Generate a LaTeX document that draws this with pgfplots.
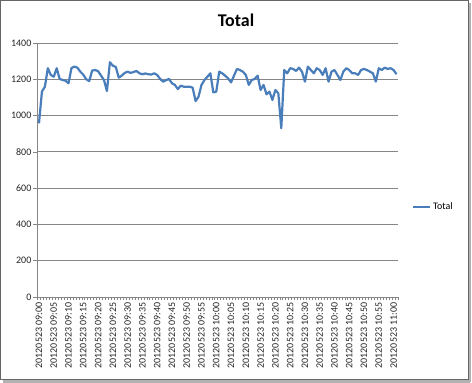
\documentclass[border=0pt]{standalone}
\usepackage{pgfplots}
\pgfplotsset{compat=1.18}
\usepackage{pgfplotstable}
\usepackage{fontspec}
\setmainfont{Carlito}
\definecolor{exblue}{RGB}{74,126,187}
\definecolor{gridgray}{RGB}{134,134,134}
\pgfplotstableread{
i v
0 957
1 1132
2 1159
3 1261
4 1224
5 1214
6 1261
7 1202
8 1196
9 1192
10 1178
11 1262
12 1270
13 1264
14 1242
15 1225
16 1200
17 1190
18 1248
19 1251
20 1245
21 1220
22 1196
23 1135
24 1294
25 1275
26 1268
27 1209
28 1220
29 1235
30 1242
31 1235
32 1240
33 1246
34 1233
35 1228
36 1232
37 1228
38 1226
39 1233
40 1224
41 1202
42 1187
43 1195
44 1202
45 1178
46 1169
47 1146
48 1165
49 1159
50 1159
51 1159
52 1154
53 1080
54 1104
55 1169
56 1196
57 1214
58 1233
59 1128
60 1132
61 1242
62 1233
63 1220
64 1205
65 1183
66 1220
67 1257
68 1251
69 1242
70 1224
71 1169
72 1196
73 1202
74 1220
75 1141
76 1169
77 1117
78 1132
79 1086
80 1141
81 1123
82 930
83 1251
84 1233
85 1261
86 1257
87 1246
88 1264
89 1242
90 1187
91 1270
92 1251
93 1233
94 1261
95 1251
96 1224
97 1261
98 1187
99 1242
100 1251
101 1224
102 1196
103 1242
104 1261
105 1251
106 1233
107 1233
108 1224
109 1251
110 1257
111 1251
112 1242
113 1233
114 1187
115 1261
116 1251
117 1264
118 1257
119 1261
120 1251
121 1228
}\datatable
\begin{document}
\begin{tikzpicture}
\useasboundingbox (0bp,0bp) rectangle (472bp,383bp);
\fill[white] (0bp,0bp) rectangle (472bp,383bp);
\draw[gray!60, line width=2bp] (470bp,1.5bp) -- (470bp,380bp);
\draw[gray!60, line width=2bp] (3bp,1.5bp) -- (470bp,1.5bp);
\draw[gray!80!black, line width=0.8bp] (0.5bp,3.5bp) rectangle (468.5bp,382.5bp);
\node[font=\fontsize{18}{20}\selectfont\bfseries] at (236bp,363bp) {Total};
\begin{axis}[
  at={(37.5bp,86bp)}, anchor=south west,
  width=360.5bp, height=254bp, scale only axis,
  xmin=-0.5, xmax=121.5,
  ymin=0, ymax=1400,
  ytick={0,200,...,1400},
  xtick={0,5,...,120},
  xticklabels={20120523 09:00,20120523 09:05,20120523 09:10,20120523 09:15,20120523 09:20,20120523 09:25,20120523 09:30,20120523 09:35,20120523 09:40,20120523 09:45,20120523 09:50,20120523 09:55,20120523 10:00,20120523 10:05,20120523 10:10,20120523 10:15,20120523 10:20,20120523 10:25,20120523 10:30,20120523 10:35,20120523 10:40,20120523 10:45,20120523 10:50,20120523 10:55,20120523 11:00},
  minor xtick={-0.5,0.5,...,121.5},
  major x tick style={draw=none},
  minor tick length=3bp,
  major tick length=4bp,
  tick align=outside,
  axis x line*=bottom, axis y line*=left,
  axis line style={gridgray, line width=0.75bp, -},
  tick style={gridgray, line width=0.6bp},
  ymajorgrids, grid style={gridgray, line width=0.75bp},
  xticklabel style={rotate=90, anchor=east, font=\fontsize{10}{11}\selectfont, text=black!85, inner sep=1.5bp},
  yticklabel style={font=\fontsize{10}{11}\selectfont, text=black!85, /pgf/number format/1000 sep={}, inner sep=2bp},
  /pgf/number format/assume math mode=true,
  legend style={at={(1.03,0.354)}, anchor=west, draw=none, fill=none, font=\fontsize{10}{11}\selectfont},
  legend image code/.code={\draw[#1] (0bp,0bp) -- (17bp,0bp);},
  clip=false,
]
\addplot[exblue, line width=2.2bp, line join=round] table[x=i, y=v] {\datatable};
\addlegendentry{Total}
\end{axis}
\end{tikzpicture}
\end{document}
